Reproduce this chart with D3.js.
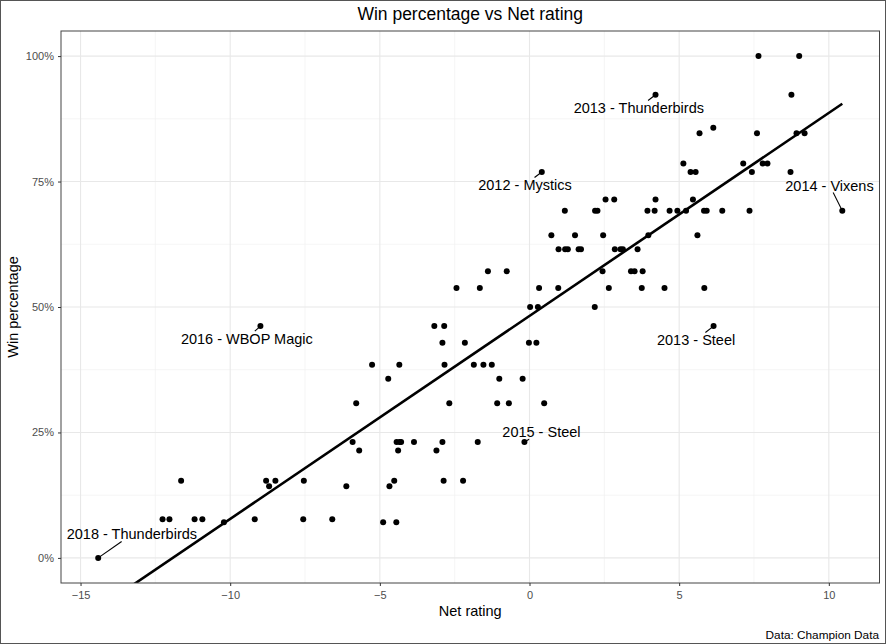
<!DOCTYPE html>
<html>
<head>
<meta charset="utf-8">
<script src="https://cdn.jsdelivr.net/npm/d3@7"></script>
<style>
  html, body { margin: 0; padding: 0; background: #fff; }
  svg { display: block; font-family: "Liberation Sans", Arial, Helvetica, sans-serif; }
</style>
</head>
<body>
<svg id="chart" width="886" height="644"></svg>
<script>
// ---- Data ----
const netRating = [
  7.65, 9.01,
  4.21, 8.75,
  6.14,
  5.68, 7.60, 8.92, 9.19,
  5.14, 7.14, 7.79, 7.95,
  0.41, 5.38, 5.55, 7.43, 8.72,
  2.54, 2.83, 4.21, 5.46,
  1.18, 2.19, 2.27, 3.94, 4.18, 4.68, 4.94, 5.23, 5.83, 5.92, 6.44, 7.35, 10.45,
  0.73, 1.52, 2.46, 3.97, 5.61,
  0.97, 1.19, 1.28, 1.64, 1.72, 2.85, 3.04, 3.12, 3.61,
  -1.39, -0.76, 2.44, 3.39, 3.51, 3.78,
  -2.44, -1.66, 0.32, 0.96, 2.65, 3.75, 4.51, 5.84,
  0.02, 0.28, 2.18,
  -3.18, -2.85, -8.99, 6.15,
  -2.91, -2.16, -0.02, 0.23,
  -5.26, -4.35, -2.84, -1.86, -1.54, -1.26,
  -4.72, -1.01, -0.23,
  -5.79, -2.68, -1.08, -0.69, 0.49,
  -5.91, -4.44, -4.34, -4.29, -3.86, -2.91, -1.73, -0.17,
  -5.69, -4.39, -3.11,
  -11.64, -8.80, -8.49, -7.54, -4.52, -2.87, -2.22,
  -8.70, -6.12, -4.68,
  -12.26, -12.03, -11.19, -10.93, -9.18, -7.56, -6.59,
  -10.21, -4.89, -4.45,
  -14.41
];
const winPct = [
  1.000, 1.000,
  0.923, 0.923,
  0.857,
  0.846, 0.846, 0.846, 0.846,
  0.786, 0.786, 0.786, 0.786,
  0.769, 0.769, 0.769, 0.769, 0.769,
  0.714, 0.714, 0.714, 0.714,
  0.692, 0.692, 0.692, 0.692, 0.692, 0.692, 0.692, 0.692, 0.692, 0.692, 0.692, 0.692, 0.692,
  0.643, 0.643, 0.643, 0.643, 0.643,
  0.615, 0.615, 0.615, 0.615, 0.615, 0.615, 0.615, 0.615, 0.615,
  0.571, 0.571, 0.571, 0.571, 0.571, 0.571,
  0.538, 0.538, 0.538, 0.538, 0.538, 0.538, 0.538, 0.538,
  0.500, 0.500, 0.500,
  0.462, 0.462, 0.462, 0.462,
  0.429, 0.429, 0.429, 0.429,
  0.385, 0.385, 0.385, 0.385, 0.385, 0.385,
  0.357, 0.357, 0.357,
  0.308, 0.308, 0.308, 0.308, 0.308,
  0.231, 0.231, 0.231, 0.231, 0.231, 0.231, 0.231, 0.231,
  0.214, 0.214, 0.214,
  0.154, 0.154, 0.154, 0.154, 0.154, 0.154, 0.154,
  0.143, 0.143, 0.143,
  0.077, 0.077, 0.077, 0.077, 0.077, 0.077, 0.077,
  0.071, 0.071, 0.071,
  0.000
];

// labelled seasons
const labelNames = ["2013 - Thunderbirds", "2012 - Mystics", "2014 - Vixens", "2016 - WBOP Magic", "2013 - Steel", "2015 - Steel", "2018 - Thunderbirds"];
const labelNet   = [4.21, 0.41, 10.45, -8.99, 6.15, -0.17, -14.41];
const labelWin   = [0.923, 0.769, 0.692, 0.462, 0.462, 0.231, 0.000];
// repel-style label offsets (px, label centre relative to point) — layout only
const labelOffsets = [[-16.7, 13], [-16.8, 12.7], [-12.8, -25.3], [-13.6, 12.3], [-17.5, 13.6], [17, -10], [33.7, -23.7]];

const xTicks = [-15, -10, -5, 0, 5, 10];
const xMinor = [-12.5, -7.5, -2.5, 2.5, 7.5];
const yTicks = [0, 0.25, 0.5, 0.75, 1];
const yTickLabels = ["0%", "25%", "50%", "75%", "100%"];
const yMinor = [0.125, 0.375, 0.625, 0.875];

const titleText = "Win percentage vs Net rating";
const xTitle = "Net rating";
const yTitle = "Win percentage";
const captionText = "Data: Champion Data";

// ---- Layout ----
const W = 886, H = 644;
const panel = { left: 61, top: 31, right: 879.5, bottom: 583 };

const svg = d3.select("#chart");
svg.append("rect").attr("x", 0).attr("y", 0).attr("width", W).attr("height", H).attr("fill", "#fff");

const xExt = d3.extent(netRating);
const xPad = (xExt[1] - xExt[0]) * 0.05;
const x = d3.scaleLinear().domain([xExt[0] - xPad, xExt[1] + xPad]).range([panel.left, panel.right]);
const y = d3.scaleLinear().domain([-0.05, 1.05]).range([panel.bottom, panel.top]);

// gridlines
const grid = svg.append("g");
grid.selectAll(".xmin").data(xMinor).join("line")
  .attr("x1", d => x(d)).attr("x2", d => x(d)).attr("y1", panel.top).attr("y2", panel.bottom)
  .attr("stroke", "#f0f0f0").attr("stroke-width", 0.7);
grid.selectAll(".ymin").data(yMinor).join("line")
  .attr("y1", d => y(d)).attr("y2", d => y(d)).attr("x1", panel.left).attr("x2", panel.right)
  .attr("stroke", "#f0f0f0").attr("stroke-width", 0.7);
grid.selectAll(".xmaj").data(xTicks).join("line")
  .attr("x1", d => x(d)).attr("x2", d => x(d)).attr("y1", panel.top).attr("y2", panel.bottom)
  .attr("stroke", "#e8e8e8").attr("stroke-width", 1.1);
grid.selectAll(".ymaj").data(yTicks).join("line")
  .attr("y1", d => y(d)).attr("y2", d => y(d)).attr("x1", panel.left).attr("x2", panel.right)
  .attr("stroke", "#e8e8e8").attr("stroke-width", 1.1);

// clip
svg.append("clipPath").attr("id", "clip").append("rect")
  .attr("x", panel.left).attr("y", panel.top)
  .attr("width", panel.right - panel.left).attr("height", panel.bottom - panel.top);

// points
const pts = netRating.map((v, i) => ({ x: v, y: winPct[i] }));
svg.append("g").selectAll("circle").data(pts).join("circle")
  .attr("cx", d => x(d.x)).attr("cy", d => y(d.y)).attr("r", 3).attr("fill", "#000");

// linear fit
const mx = d3.mean(netRating), my = d3.mean(winPct);
let sxy = 0, sxx = 0;
netRating.forEach((v, i) => { sxy += (v - mx) * (winPct[i] - my); sxx += (v - mx) * (v - mx); });
const slope = sxy / sxx, intercept = my - slope * mx;
const fit = xExt.map(v => ({ x: v, y: intercept + slope * v }));
svg.append("path").datum(fit).attr("clip-path", "url(#clip)")
  .attr("d", d3.line().x(d => x(d.x)).y(d => y(d.y)))
  .attr("fill", "none").attr("stroke", "#000").attr("stroke-width", 2.6);

// labels
const fs = 14.5;
const lab = svg.append("g").attr("font-size", fs).attr("fill", "#000");
labelNames.forEach((name, i) => {
  const px = x(labelNet[i]), py = y(labelWin[i]);
  const cx = px + labelOffsets[i][0], cy = py + labelOffsets[i][1];
  const t = lab.append("text").attr("x", cx).attr("y", cy + 0.36 * fs)
    .attr("text-anchor", "middle").text(name);
  const w = t.node().getComputedTextLength();
  const hw = w / 2 + 2, hh = 0.36 * fs + 2;
  const dx = cx - px, dy = cy - py;
  const tx2 = dx !== 0 ? (Math.abs(dx) - hw) / Math.abs(dx) : -Infinity;
  const ty2 = dy !== 0 ? (Math.abs(dy) - hh) / Math.abs(dy) : -Infinity;
  const tb = Math.max(tx2, ty2);
  if (tb > 0) {
    lab.append("line").attr("x1", px).attr("y1", py)
      .attr("x2", px + dx * tb).attr("y2", py + dy * tb)
      .attr("stroke", "#000").attr("stroke-width", 1.1);
  }
});

// panel border
svg.append("rect").attr("x", panel.left).attr("y", panel.top)
  .attr("width", panel.right - panel.left).attr("height", panel.bottom - panel.top)
  .attr("fill", "none").attr("stroke", "#444").attr("stroke-width", 1);

// axes
const xAxis = svg.append("g").attr("transform", `translate(0,${panel.bottom})`)
  .call(d3.axisBottom(x).tickValues(xTicks).tickSize(3).tickPadding(5).tickFormat(d3.format("d")));
xAxis.select(".domain").remove();
xAxis.selectAll("line").attr("stroke", "#333");
xAxis.selectAll("text").attr("fill", "#4d4d4d").attr("font-size", 11)
  .attr("font-family", "Liberation Sans, Arial, sans-serif");

const yAxis = svg.append("g").attr("transform", `translate(${panel.left},0)`)
  .call(d3.axisLeft(y).tickValues(yTicks).tickSize(3).tickPadding(4).tickFormat((d, i) => yTickLabels[i]));
yAxis.select(".domain").remove();
yAxis.selectAll("line").attr("stroke", "#333");
yAxis.selectAll("text").attr("fill", "#4d4d4d").attr("font-size", 11)
  .attr("font-family", "Liberation Sans, Arial, sans-serif");

// titles
svg.append("text").attr("x", (panel.left + panel.right) / 2).attr("y", 20)
  .attr("text-anchor", "middle").attr("font-size", 17.5).attr("fill", "#000").text(titleText);
svg.append("text").attr("x", (panel.left + panel.right) / 2).attr("y", 616)
  .attr("text-anchor", "middle").attr("font-size", 14.5).attr("fill", "#000").text(xTitle);
svg.append("text").attr("transform", `translate(18,${(panel.top + panel.bottom) / 2}) rotate(-90)`)
  .attr("text-anchor", "middle").attr("font-size", 14.5).attr("fill", "#000").text(yTitle);
svg.append("text").attr("x", 879).attr("y", 638.5)
  .attr("text-anchor", "end").attr("font-size", 11.8).attr("fill", "#000").text(captionText);

// outer frame
svg.append("rect").attr("x", 0.5).attr("y", 0.5).attr("width", W - 1).attr("height", H - 1)
  .attr("fill", "none").attr("stroke", "#555").attr("stroke-width", 1);
</script>
</body>
</html>
